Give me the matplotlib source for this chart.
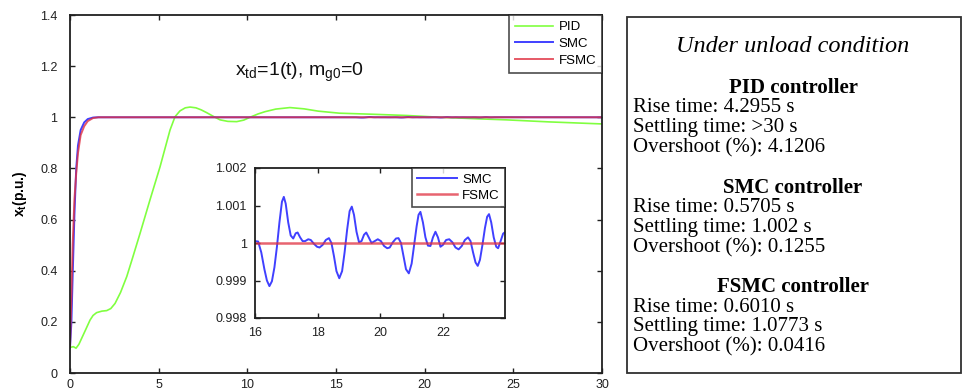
import numpy as np
import matplotlib
matplotlib.use("Agg")
import matplotlib.pyplot as plt
from matplotlib.patches import Rectangle

plt.rcParams['font.family'] = ['Liberation Sans', 'DejaVu Sans']
plt.rcParams['mathtext.fontset'] = 'custom'
plt.rcParams['mathtext.rm'] = 'Liberation Sans'
plt.rcParams['mathtext.it'] = 'Liberation Sans'

# ---- step responses (unload condition) ----
pid_t = [0.0, 0.19, 0.34, 0.5, 0.66, 0.9, 1.13, 1.3, 1.5, 1.8, 2.07, 2.3, 2.54,
         2.85, 3.2, 3.55, 3.95, 4.51, 5.08, 5.64, 5.92, 6.2, 6.5, 6.77, 7.1,
         7.4, 7.71, 8.1, 8.46, 8.9, 9.4, 9.8, 10.15, 10.6, 11.0, 11.6, 12.4,
         13.2, 14.0, 15.2, 17.0, 19.0, 20.9, 23.0, 24.6, 27.0, 30.0]
pid_y = [0.10, 0.103, 0.097, 0.112, 0.136, 0.172, 0.207, 0.225, 0.236, 0.242,
         0.244, 0.252, 0.272, 0.315, 0.377, 0.455, 0.546, 0.677, 0.807, 0.950,
         1.002, 1.025, 1.037, 1.040, 1.037, 1.029, 1.018, 1.003, 0.990, 0.984,
         0.983, 0.989, 1.000, 1.013, 1.022, 1.032, 1.038, 1.033, 1.024, 1.016,
         1.012, 1.007, 1.000, 0.994, 0.990, 0.982, 0.974]

smc_rise_t = [0.0, 0.08, 0.15, 0.25, 0.35, 0.45, 0.6, 0.8, 1.0, 1.3, 1.6, 2.0]
smc_rise_y = [0.10, 0.20, 0.38, 0.62, 0.80, 0.89, 0.95, 0.98, 0.993, 0.999, 1.0, 1.0]

fsmc_t = [0.0, 0.08, 0.15, 0.25, 0.35, 0.45, 0.6, 0.8, 1.0, 1.3, 1.6, 2.0, 30.0]
fsmc_y = [0.10, 0.30, 0.50, 0.68, 0.78, 0.86, 0.93, 0.965, 0.985, 0.997, 1.0, 1.0, 1.0]

# steady-state ripple of SMC, deviation from 1 in units of 1e-3
smc_wave_t = [16.00, 16.10, 16.20, 16.30, 16.38, 16.46, 16.54, 16.62, 16.70, 16.78,
              16.86, 16.92, 16.98, 17.06, 17.14, 17.22, 17.30, 17.36, 17.44, 17.52,
              17.60, 17.70, 17.78, 17.88, 17.98, 18.06, 18.16, 18.26, 18.36, 18.44,
              18.52, 18.60, 18.69, 18.78, 18.86, 18.94, 19.02, 19.09, 19.16, 19.24,
              19.32, 19.40, 19.48, 19.55, 19.63, 19.72, 19.82, 19.92, 20.02, 20.12,
              20.22, 20.30, 20.40, 20.50, 20.58, 20.66, 20.74, 20.82, 20.91, 21.00,
              21.08, 21.16, 21.22, 21.28, 21.36, 21.44, 21.52, 21.60, 21.68, 21.76,
              21.84, 21.92, 22.00, 22.10, 22.20, 22.30, 22.40, 22.50, 22.60, 22.70,
              22.80, 22.88, 22.96, 23.04, 23.11, 23.18, 23.26, 23.34, 23.41, 23.47,
              23.54, 23.62, 23.70, 23.76, 23.84, 23.92, 24.00]
smc_wave_dev = [0.05, 0.04, -0.25, -0.70, -1.00, -1.15, -1.02, -0.65, -0.10, 0.55,
                1.10, 1.23, 1.05, 0.55, 0.20, 0.12, 0.26, 0.28, 0.15, 0.05,
                0.05, 0.10, 0.08, -0.02, -0.10, -0.12, -0.05, 0.08, 0.13, 0.00,
                -0.35, -0.75, -0.94, -0.75, -0.25, 0.35, 0.85, 0.97, 0.75, 0.30,
                0.02, 0.05, 0.22, 0.28, 0.15, 0.00, 0.05, 0.10, 0.05, -0.08,
                -0.14, -0.12, 0.02, 0.12, 0.13, 0.00, -0.35, -0.70, -0.81, -0.55,
                -0.05, 0.45, 0.75, 0.83, 0.55, 0.15, -0.07, -0.08, 0.15, 0.30,
                0.15, -0.10, -0.05, 0.08, 0.10, 0.02, -0.12, -0.17, -0.08, 0.08,
                0.15, 0.05, -0.25, -0.52, -0.61, -0.45, -0.05, 0.40, 0.70, 0.77,
                0.55, 0.15, -0.10, -0.14, 0.05, 0.25, 0.30]

main_xticks = [0, 5, 10, 15, 20, 25, 30]
main_yticks = [0, 0.2, 0.4, 0.6, 0.8, 1.0, 1.2, 1.4]
main_yticklabels = ['0', '0.2', '0.4', '0.6', '0.8', '1', '1.2', '1.4']
inset_xticks = [16, 18, 20, 22]
inset_yticks = [0.998, 0.999, 1.0, 1.001, 1.002]
inset_yticklabels = ['0.998', '0.999', '1', '1.001', '1.002']

panel_title = 'Under unload condition'
panel_blocks = [
    ('PID controller', ['Rise time: 4.2955 s', 'Settling time: >30 s',
                        'Overshoot (%): 4.1206']),
    ('SMC controller', ['Rise time: 0.5705 s', 'Settling time: 1.002 s',
                        'Overshoot (%): 0.1255']),
    ('FSMC controller', ['Rise time: 0.6010 s', 'Settling time: 1.0773 s',
                         'Overshoot (%): 0.0416']),
]

C_PID = '#80ff40'
C_SMC = '#4040ff'
C_FSMC = '#e03040'

W, H = 963, 392
fig = plt.figure(figsize=(W / 100, H / 100), dpi=100)


def frac_x(px):
    return px / W


def frac_y(py):
    return 1 - py / H


def style_axes(ax, xpad, ypad):
    for s in ax.spines.values():
        s.set_linewidth(1.3)
        s.set_color('#202020')
    ax.tick_params(direction='in', top=True, right=True, length=3.5,
                   width=1.0, labelsize=9, colors='#202020')
    ax.tick_params(axis='x', pad=xpad)
    ax.tick_params(axis='y', pad=ypad)


# ---- main axes ----
ax = fig.add_axes([frac_x(70), frac_y(373), frac_x(602 - 70), (373 - 15) / H])
smc_wave_y = [1 + d * 1e-3 for d in smc_wave_dev]
smc_t = smc_rise_t + smc_wave_t + [30.0]
smc_y = smc_rise_y + smc_wave_y + [1.0]

ax.plot(pid_t, pid_y, color=C_PID, lw=1.2, label='PID')
ax.plot(smc_t, smc_y, color=C_SMC, lw=1.4, label='SMC')
ax.plot(fsmc_t, fsmc_y, color=C_FSMC, lw=1.4, alpha=0.8, label='FSMC')
ax.set_xlim(0, 30)
ax.set_ylim(0, 1.4)
ax.set_xticks(main_xticks)
ax.set_yticks(main_yticks)
ax.set_yticklabels(main_yticklabels)
style_axes(ax, xpad=4.0, ypad=9)
ax.set_ylabel(r'x$_\mathregular{t}$(p.u.)', fontsize=10, fontweight='bold',
              labelpad=8)
ax.text(0.31, 0.83, r'x$_\mathregular{td}$=1(t), m$_\mathregular{g0}$=0',
        transform=ax.transAxes, fontsize=14, color='#101010')
leg = ax.legend(loc='upper right', fontsize=9.5, frameon=True, fancybox=False,
                borderaxespad=0, handlelength=2.9, handletextpad=0.4,
                labelspacing=0.35, borderpad=0.45)
leg.get_frame().set_edgecolor('#202020')
leg.get_frame().set_linewidth(1.2)

# ---- inset zoom of the steady state ----
axi = fig.add_axes([frac_x(255), frac_y(318), frac_x(505 - 255), (318 - 168) / H])
axi.plot(smc_wave_t, smc_wave_y, color=C_SMC, lw=1.4, label='SMC')
axi.plot([smc_wave_t[0], smc_wave_t[-1]], [1.0, 1.0], color=C_FSMC, lw=1.8,
         alpha=0.75, label='FSMC')
axi.set_xlim(16, 23.98)
axi.set_ylim(0.998, 1.002)
axi.set_xticks(inset_xticks)
axi.set_yticks(inset_yticks)
axi.set_yticklabels(inset_yticklabels)
style_axes(axi, xpad=6.5, ypad=6)
legi = axi.legend(loc='upper right', fontsize=9.5, frameon=True, fancybox=False,
                  borderaxespad=0, handlelength=3.0, handletextpad=0.4,
                  labelspacing=0.3, borderpad=0.4)
legi.get_frame().set_edgecolor('#202020')
legi.get_frame().set_linewidth(1.2)

# ---- performance summary panel ----
fig.patches.append(Rectangle((frac_x(627), frac_y(373)), frac_x(961 - 627),
                             (373 - 17) / H, transform=fig.transFigure,
                             fill=False, edgecolor='#303030', lw=1.3))
serif = ['Liberation Serif', 'DejaVu Serif']
cx = frac_x(793)
lx = frac_x(633)
fig.text(cx, frac_y(46), panel_title, ha='center', va='center', fontsize=17.5,
         style='italic', family=serif)
y = 88
for head, lines in panel_blocks:
    fig.text(cx, frac_y(y), head, ha='center', va='center', fontsize=15,
             fontweight='bold', family=serif)
    for i, ln in enumerate(lines):
        fig.text(lx, frac_y(y + 20 * (i + 1)), ln, ha='left', va='center',
                 fontsize=15, family=serif)
    y += 99.5

fig.savefig('out.png', dpi=100)
